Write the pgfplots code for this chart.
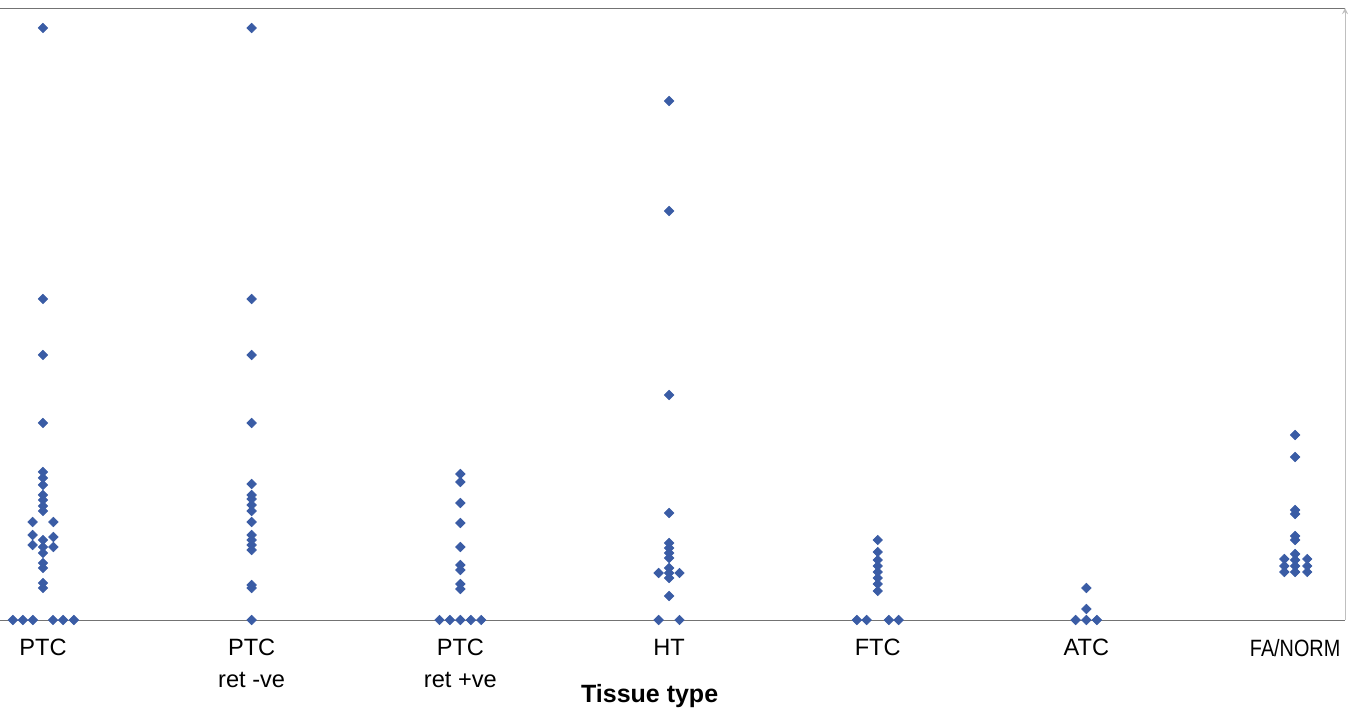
\documentclass[border=0pt]{standalone}
\usepackage{pgfplots}
\usepackage{pgfplotstable}
\pgfplotsset{compat=1.18}
\usepackage{fontspec}
\setmainfont{Liberation Sans}
\definecolor{dotblue}{RGB}{58,92,165}

\pgfplotstableread{
x y
0 59.2
0 32.1
0 26.5
0 19.7
0 14.8
0 14.2
0 13.5
0 12.5
0 12.0
0 11.4
0 10.9
-0.05 9.8
0.05 9.8
-0.05 8.5
-0.05 7.5
0.05 8.3
0.05 7.3
0 8.0
0 7.3
0 6.7
0 5.7
0 5.2
0 3.7
0 3.2
-0.144 0
-0.096 0
-0.048 0
0.048 0
0.096 0
0.148 0
}\dataptc

\pgfplotstableread{
x y
1 59.2
1 32.1
1 26.5
1 19.7
1 13.6
1 12.5
1 12.1
1 11.5
1 10.9
1 9.8
1 8.5
1 8.0
1 7.5
1 7.0
1 3.5
1 3.2
1 0
}\dataptcneg

\pgfplotstableread{
x y
2 14.6
2 13.8
2 11.7
2 9.7
2 7.3
2 5.5
2 5.0
2 3.6
2 3.1
1.9 0
1.95 0
2 0
2.05 0
2.1 0
}\dataptcpos

\pgfplotstableread{
x y
3 51.9
3 40.9
3 22.5
3 10.7
3 7.7
3 7.2
3 6.7
3 6.2
3 5.2
3 4.7
3 4.2
2.95 4.7
3.05 4.7
3 2.4
2.95 0
3.05 0
}\dataht

\pgfplotstableread{
x y
4 8.0
4 6.8
4 6.0
4 5.4
4 4.8
4 4.2
4 3.6
4 2.9
3.9 0
3.947 0
4.053 0
4.1 0
}\dataftc

\pgfplotstableread{
x y
5 3.2
5 1.1
4.948 0
5 0
5.05 0
}\dataatc

\pgfplotstableread{
x y
6 18.5
6 16.3
6 11.0
6 10.6
6 8.4
6 8.0
6 6.6
6 6.0
6 5.4
6 4.8
5.948 6.1
5.948 5.4
5.948 4.8
6.058 6.1
6.058 5.4
6.058 4.8
}\datafanorm

\begin{document}
\begin{tikzpicture}
\useasboundingbox (0,-45pt) rectangle (674pt,310pt);
\begin{axis}[
  at={(0,0)}, anchor=south west,
  scale only axis,
  width=672.5pt, height=306pt,
  xmin=-0.206, xmax=6.239,
  ymin=0, ymax=61.2,
  axis x line=box, axis y line=right,
  separate axis lines,
  x axis line style={draw=black!55},
  y axis line style={draw=black!25},
  ytick=\empty,
  xtick={0,1,2,3,4,5,6},
  xticklabels={PTC, {PTC\\ret -ve}, {PTC\\ret +ve}, HT, FTC, ATC, {\scalebox{0.84}[1]{FA/NORM}}},
  xticklabel style={align=center, font=\fontsize{11.8pt}{16pt}\selectfont, anchor=north, yshift=-6pt},
  major tick length=0pt,
  xlabel={Tissue type},
  xlabel style={at={(rel axis cs:0.483,0)}, anchor=center, yshift=-38pt, font=\fontsize{12.5pt}{15pt}\selectfont\bfseries},
  clip=false,
  dots/.style={only marks, mark=square*, mark size=1.65pt,
    mark options={rotate=45, fill=dotblue, draw=dotblue}},
]
\addplot[dots] table[x=x,y=y] {\dataptc};
\addplot[dots] table[x=x,y=y] {\dataptcneg};
\addplot[dots] table[x=x,y=y] {\dataptcpos};
\addplot[dots] table[x=x,y=y] {\dataht};
\addplot[dots] table[x=x,y=y] {\dataftc};
\addplot[dots] table[x=x,y=y] {\dataatc};
\addplot[dots] table[x=x,y=y] {\datafanorm};
\end{axis}
\end{tikzpicture}
\end{document}
